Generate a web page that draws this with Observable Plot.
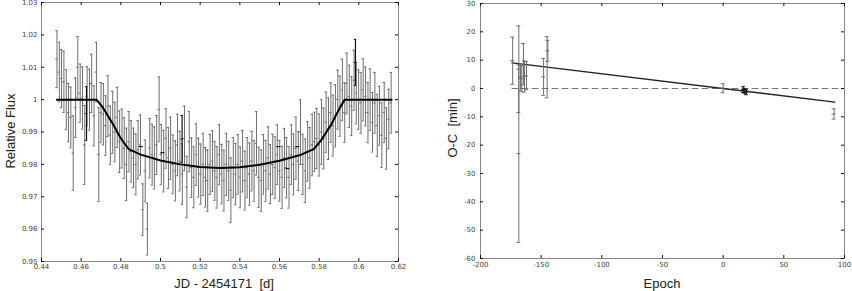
<!DOCTYPE html>
<html><head><meta charset="utf-8">
<script src="https://cdn.jsdelivr.net/npm/d3@7"></script>
<script src="https://cdn.jsdelivr.net/npm/@observablehq/plot@0.6"></script>
<style>
body{margin:0;background:#fff;}
#wrap{position:relative;width:852px;height:291px;overflow:hidden;font-family:"Liberation Sans",Arial,sans-serif;}
.p{position:absolute;top:0;}
.lab{position:absolute;font-size:13px;color:#222;white-space:pre;transform:translate(-50%,-50%);line-height:1;}
.rot{transform:translate(-50%,-50%) rotate(-90deg);}
</style></head><body>
<div id="wrap">
  <div id="left" class="p" style="left:0"></div>
  <div id="right" class="p" style="left:426px"></div>
  <div class="lab rot" style="left:10px;top:131px">Relative Flux</div>
  <div class="lab" style="left:224px;top:283px">JD - 2454171  [d]</div>
  <div class="lab rot" style="left:452px;top:128px">O-C  [min]</div>
  <div class="lab" style="left:662px;top:283px">Epoch</div>
</div>
<script>
// ---------- Left panel: light curve ----------
const jd = [0.4478,0.4490,0.4501,0.4513,0.4525,0.4536,0.4548,0.4560,0.4572,0.4583,
0.4595,0.4607,0.4618,0.4630,0.4642,0.4653,0.4665,0.4677,0.4689,0.4700,
0.4712,0.4724,0.4735,0.4747,0.4759,0.4770,0.4782,0.4794,0.4806,0.4817,
0.4829,0.4841,0.4852,0.4864,0.4876,0.4887,0.4899,0.4911,0.4923,0.4934,
0.4946,0.4958,0.4969,0.4981,0.4993,0.5004,0.5016,0.5028,0.5040,0.5051,
0.5063,0.5075,0.5086,0.5098,0.5110,0.5121,0.5133,0.5145,0.5157,0.5168,
0.5180,0.5192,0.5203,0.5215,0.5227,0.5238,0.5250,0.5262,0.5274,0.5285,
0.5297,0.5309,0.5320,0.5332,0.5344,0.5355,0.5367,0.5379,0.5391,0.5402,
0.5414,0.5426,0.5437,0.5449,0.5461,0.5472,0.5484,0.5496,0.5508,0.5519,
0.5531,0.5543,0.5554,0.5566,0.5578,0.5589,0.5601,0.5613,0.5625,0.5636,
0.5648,0.5660,0.5671,0.5683,0.5695,0.5706,0.5718,0.5730,0.5742,0.5753,
0.5765,0.5777,0.5788,0.5800,0.5812,0.5823,0.5835,0.5847,0.5859,0.5870,
0.5882,0.5894,0.5905,0.5917,0.5929,0.5940,0.5952,0.5964,0.5976,0.5987,
0.5999,0.6011,0.6022,0.6034,0.6046,0.6057,0.6069,0.6081,0.6093,0.6104,
0.6116,0.6128,0.6139,0.6151,0.6163];
const flux = [1.0125,1.0085,1.0065,1.0055,1.0000,0.9960,0.9945,0.9835,0.9975,1.0100,
1.0020,1.0005,0.9860,1.0010,1.0000,1.0050,0.9950,1.0085,0.9830,0.9960,
0.9955,0.9920,0.9980,0.9890,0.9930,0.9900,0.9945,0.9870,0.9880,0.9850,
0.9800,0.9870,0.9840,0.9820,0.9800,0.9845,0.9860,0.9660,0.9780,0.9600,
0.9850,0.9830,0.9820,0.9860,0.9970,0.9830,0.9810,0.9880,0.9820,0.9850,
0.9800,0.9780,0.9860,0.9810,0.9770,0.9880,0.9730,0.9870,0.9790,0.9760,
0.9830,0.9790,0.9770,0.9800,0.9760,0.9750,0.9800,0.9810,0.9780,0.9760,
0.9830,0.9770,0.9750,0.9800,0.9780,0.9720,0.9790,0.9770,0.9800,0.9760,
0.9810,0.9750,0.9790,0.9770,0.9810,0.9780,0.9865,0.9760,0.9750,0.9800,
0.9780,0.9820,0.9770,0.9800,0.9790,0.9830,0.9780,0.9760,0.9820,0.9790,
0.9760,0.9830,0.9800,0.9850,0.9810,0.9900,0.9800,0.9780,0.9840,0.9820,
0.9860,0.9870,0.9880,0.9860,0.9900,0.9880,0.9930,0.9910,0.9960,0.9920,
0.9950,1.0000,0.9980,1.0030,0.9960,1.0050,1.0010,0.9980,1.0060,1.0020,
1.0000,0.9990,1.0030,1.0010,0.9960,1.0000,0.9930,0.9990,0.9920,0.9950,
0.9890,0.9960,0.9880,0.9940,0.9990];
const fluxErr = [0.0088,0.0092,0.0090,0.0095,0.0093,0.0090,0.0094,0.0115,0.0092,0.0095,
0.0090,0.0096,0.0122,0.0092,0.0094,0.0090,0.0093,0.0092,0.0145,0.0093,
0.0095,0.0092,0.0094,0.0090,0.0096,0.0092,0.0093,0.0095,0.0091,0.0094,
0.0112,0.0093,0.0095,0.0092,0.0094,0.0090,0.0093,0.0080,0.0095,0.0080,
0.0092,0.0094,0.0096,0.0091,0.0100,0.0093,0.0095,0.0092,0.0094,0.0096,
0.0091,0.0093,0.0095,0.0092,0.0094,0.0100,0.0095,0.0093,0.0092,0.0094,
0.0095,0.0091,0.0093,0.0096,0.0092,0.0095,0.0093,0.0094,0.0091,0.0095,
0.0093,0.0092,0.0094,0.0096,0.0091,0.0100,0.0093,0.0095,0.0092,0.0094,
0.0095,0.0091,0.0093,0.0096,0.0092,0.0094,0.0098,0.0093,0.0095,0.0092,
0.0094,0.0096,0.0091,0.0093,0.0095,0.0092,0.0094,0.0096,0.0091,0.0093,
0.0095,0.0092,0.0094,0.0096,0.0091,0.0100,0.0093,0.0098,0.0092,0.0094,
0.0095,0.0091,0.0093,0.0096,0.0100,0.0094,0.0093,0.0095,0.0092,0.0094,
0.0096,0.0091,0.0093,0.0095,0.0092,0.0094,0.0096,0.0091,0.0093,0.0095,
0.0092,0.0094,0.0096,0.0091,0.0093,0.0095,0.0092,0.0094,0.0096,0.0091,
0.0100,0.0093,0.0095,0.0092,0.0094];
// highlighted (dark) points
const darkJd = [0.4627, 0.5109, 0.5983];
const darkFlux = [0.9957, 0.9878, 1.0115];
const darkErr = [0.0083, 0.0073, 0.0071];
// short dark dashes
const dashJd = [0.4903, 0.5012, 0.5597, 0.5692, 0.5642];
const dashFlux = [0.9855, 0.9836, 0.9855, 0.9855, 0.9787];
// transit model
const modelJd = [0.4477,0.4677,0.4710,0.4760,0.4800,0.4840,0.4900,0.5000,0.5100,0.5200,0.5300,0.5400,0.5500,0.5600,0.5700,0.5773,0.5810,0.5860,0.5900,0.5929,0.6165];
const modelFlux = [1.0,1.0,0.9975,0.9925,0.9880,0.9847,0.9830,0.9812,0.9800,0.9792,0.9789,0.9791,0.9799,0.9811,0.9828,0.9847,0.9875,0.9922,0.9970,1.0,1.0];
const leftXTicks = [0.44,0.46,0.48,0.5,0.52,0.54,0.56,0.58,0.6,0.62];
const leftYTicks = [0.95,0.96,0.97,0.98,0.99,1,1.01,1.02,1.03];

// ---------- Right panel: O-C ----------
const epoch = [-173.5,-168.4,-168.4,-167.0,-166.0,-164.6,-163.8,-162.1,-148.0,-145.1,-144.5,0.0,91.4];
const oc = [9.8,6.8,-23.0,4.0,3.5,8.6,4.2,4.5,4.1,7.5,13.3,0.1,-9.0];
const ocErr = [8.3,15.3,31.3,4.5,4.5,7.3,5.5,5.0,6.5,10.8,3.7,1.6,1.8];
const epochDark = [16.8, 18.0, 19.2];
const ocDark = [-0.4, -0.9, -1.3];
const ocDarkErr = [1.0, 0.8, 0.9];
const fitEpoch = [-174, 92];
const fitOC = [9.05, -4.8];
const zeroEpoch = [-174, 100];
const zeroOC = [0, 0];
const rightXTicks = [-200,-150,-100,-50,0,50,100];
const rightYTicks = [-60,-50,-40,-30,-20,-10,0,10,20,30];

const rows = (xs, ys, es) => xs.map((x, i) => ({x, y: ys[i], e: es ? es[i] : 0}));

function errMarks(data, cw, stroke, sw) {
  return [
    Plot.ruleX(data, {x: "x", y1: d => d.y - d.e, y2: d => d.y + d.e, stroke, strokeWidth: sw}),
    Plot.ruleY(data, {y: d => d.y + d.e, x1: d => d.x - cw, x2: d => d.x + cw, stroke, strokeWidth: 1}),
    Plot.ruleY(data, {y: d => d.y - d.e, x1: d => d.x - cw, x2: d => d.x + cw, stroke, strokeWidth: 1}),
    Plot.ruleY(data, {y: "y", x1: d => d.x - cw, x2: d => d.x + cw, stroke, strokeWidth: 1})
  ];
}
function innerTicks(xt, yt, W, H) {
  return [
    Plot.tickX(xt, {x: d => d, insetTop: H - 3, stroke: "#111"}),
    Plot.tickX(xt, {x: d => d, insetBottom: H - 3, stroke: "#111"}),
    Plot.tickY(yt, {y: d => d, insetRight: W - 3, stroke: "#111"}),
    Plot.tickY(yt, {y: d => d, insetLeft: W - 3, stroke: "#111"})
  ];
}

// Left
{
  const width = 426, height = 291, mL = 41, mR = 28, mT = 2, mB = 30;
  const W = width - mL - mR, H = height - mT - mB;
  const fmt = d => String(+d.toFixed(2));
  const chart = Plot.plot({
    width, height, marginLeft: mL, marginRight: mR, marginTop: mT, marginBottom: mB,
    style: {fontSize: "7px", fontFamily: "DejaVu Sans, sans-serif", color: "#444", background: "#fff"},
    x: {domain: [0.44, 0.62], ticks: leftXTicks, tickFormat: fmt, tickSize: 0, tickPadding: 3, label: null},
    y: {domain: [0.95, 1.03], ticks: leftYTicks, tickFormat: fmt, tickSize: 0, tickPadding: 4, label: null},
    marks: [
      ...errMarks(rows(jd, flux, fluxErr), 0.0006, "#6e6e6e", 1),
      ...errMarks(rows(darkJd, darkFlux, darkErr), 0.0006, "#111", 1.2),
      Plot.ruleY(rows(dashJd, dashFlux), {y: "y", x1: d => d.x - 0.0010, x2: d => d.x + 0.0010, stroke: "#111", strokeWidth: 1.2}),
      Plot.line(rows(modelJd, modelFlux), {x: "x", y: "y", stroke: "#000", strokeWidth: 2}),
      Plot.frame({stroke: "#888"}),
      ...innerTicks(leftXTicks, leftYTicks, W, H)
    ]
  });
  document.getElementById("left").appendChild(chart);
}

// Right
{
  const width = 426, height = 291, mL = 54, mR = 8, mT = 3, mB = 33;
  const W = width - mL - mR, H = height - mT - mB;
  const chart = Plot.plot({
    width, height, marginLeft: mL, marginRight: mR, marginTop: mT, marginBottom: mB,
    style: {fontSize: "7px", fontFamily: "DejaVu Sans, sans-serif", color: "#444", background: "#fff"},
    x: {domain: [-200, 100], ticks: rightXTicks, tickFormat: d => String(d), tickSize: 0, tickPadding: 4, label: null},
    y: {domain: [-60, 30], ticks: rightYTicks, tickFormat: d => String(d), tickSize: 0, tickPadding: 5, label: null},
    marks: [
      Plot.line(rows(zeroEpoch, zeroOC), {x: "x", y: "y", stroke: "#777", strokeWidth: 1, strokeDasharray: "6,4"}),
      Plot.line(rows(fitEpoch, fitOC), {x: "x", y: "y", stroke: "#222", strokeWidth: 1.4}),
      ...errMarks(rows(epoch, oc, ocErr), 1.6, "#6e6e6e", 1),
      ...errMarks(rows(epochDark, ocDark, ocDarkErr), 1.6, "#111", 1),
      Plot.frame({stroke: "#888"}),
      ...innerTicks(rightXTicks, rightYTicks, W, H)
    ]
  });
  document.getElementById("right").appendChild(chart);
}
</script>
</body></html>
